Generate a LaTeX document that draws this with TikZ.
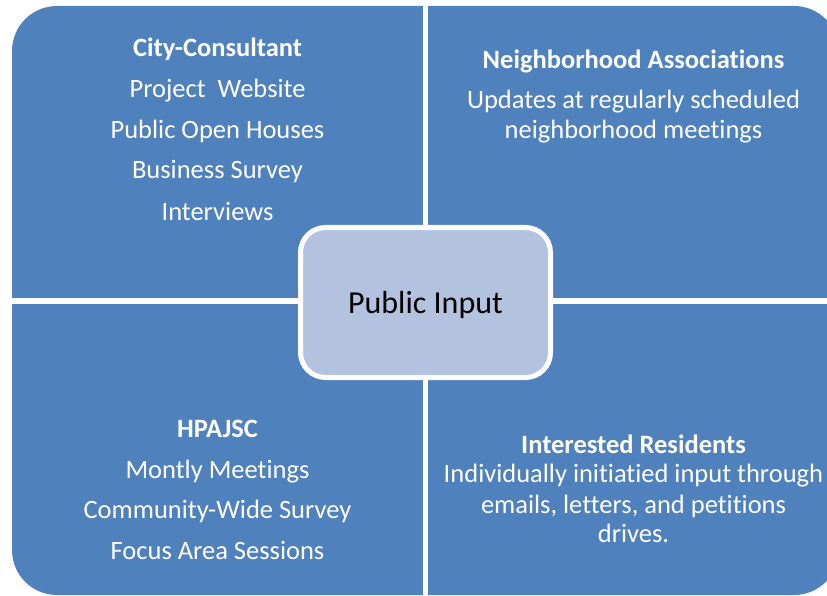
\documentclass[tikz,border=0pt]{standalone}
\usepackage{fontspec}
\setmainfont{Carlito}[Ligatures=NoCommon,RawFeature=-liga]
\definecolor{qblue}{RGB}{79,129,189}
\definecolor{cfill}{RGB}{179,194,222}
\begin{document}
\begin{tikzpicture}[x=1pt,y=-1pt,
  txt/.style={text=white,font=\fontsize{26.5}{32}\selectfont,anchor=base,inner sep=0pt},
  ttl/.style={txt,font=\fontsize{26.5}{32}\selectfont\bfseries},
  gap/.style={fill=white},
  hub/.style={draw=white,line width=5pt,fill=cfill,rounded corners=25pt,minimum width=250pt,minimum height=150pt,inner sep=0pt,font=\fontsize{32}{38}\selectfont,text=black}]
\useasboundingbox (0,0) rectangle (827,596);
\clip (0,0) rectangle (827,596);
% four quadrants: one rounded block split by white gaps
\fill[qblue,rounded corners=45pt] (12,6) rectangle (839,595);
\fill[gap] (423,0) rectangle (428,596);
\fill[gap] (0,298) rectangle (827,304);
% centre
\node[hub] (hub) at (425.5,302.5) {};
\node[anchor=base,inner sep=0pt,font=\fontsize{32}{38}\selectfont] (hubtext) at (425.5,313) {Public Input};
% top left
\node[ttl] (tl1) at (217.5,57) {City-Consultant};
\node[txt] (tl2) at (217.5,98) {Project\ \ Website};
\node[txt] (tl3) at (217.5,139) {Public Open Houses};
\node[txt] (tl4) at (217.5,179) {Business Survey};
\node[txt] (tl5) at (217.5,220) {Interviews};
% top right
\node[ttl] (tr1) at (633.5,69) {Neighborhood Associations};
\node[txt] (tr2) at (633.5,109) {Updates at regularly scheduled};
\node[txt] (tr3) at (633.5,139) {neighborhood meetings};
% bottom left
\node[ttl] (bl1) at (217.5,437) {HPAJSC};
\node[txt] (bl2) at (217.5,478) {Montly Meetings};
\node[txt] (bl3) at (217.5,518) {Community-Wide Survey};
\node[txt] (bl4) at (217.5,559) {Focus Area Sessions};
% bottom right
\node[ttl] (br1) at (633.5,453) {Interested Residents};
\node[txt] (br2) at (633.5,482) {Individually initiatied input through};
\node[txt] (br3) at (633.5,513) {emails, letters, and petitions};
\node[txt] (br4) at (633.5,542) {drives.};
\end{tikzpicture}
\end{document}
